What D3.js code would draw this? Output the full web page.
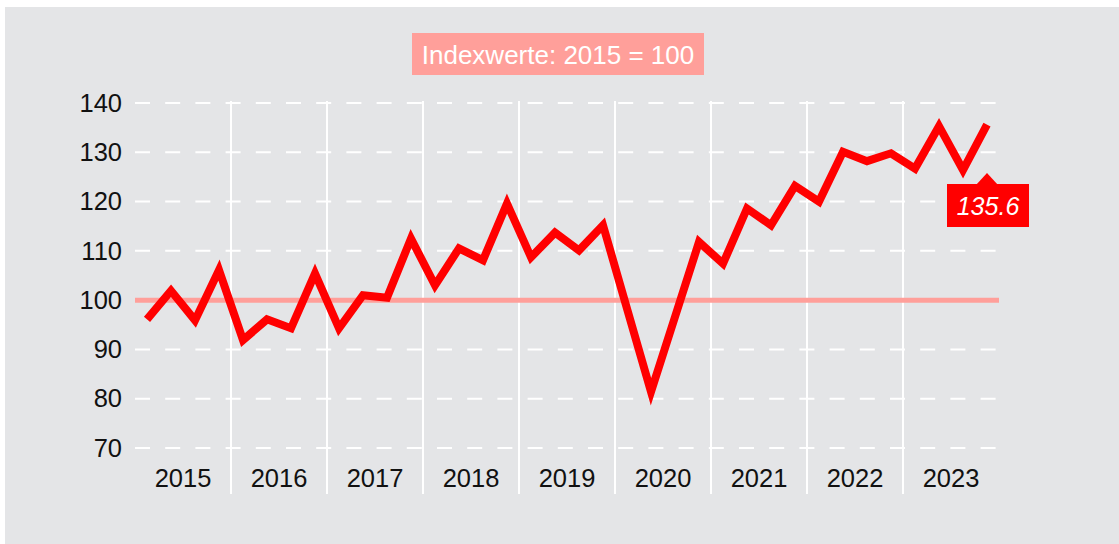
<!DOCTYPE html>
<html>
<head>
<meta charset="utf-8">
<script src="https://cdn.jsdelivr.net/npm/d3@7"></script>
<style>
  body { margin: 0; background: #fff; }
  text { font-family: "Liberation Sans", Arial, sans-serif; }
</style>
</head>
<body>
<div id="chart"></div>
<script>
// data (quarterly index, 2015 = 100)
var years = ["2015", "2016", "2017", "2018", "2019", "2020", "2021", "2022", "2023"];
var quarters = ["Q1", "Q2", "Q3", "Q4"];
var values = [
    96.1, 101.9, 95.9, 106.1,
    91.9, 96.1, 94.3, 105.4,
    94.3, 101.0, 100.5, 112.5,
    103.0, 110.5, 108.1, 119.6,
    108.7, 113.7, 110.1, 115.2,
    98.3, 81.4, 96.6, 111.8,
    107.4, 118.6, 115.2, 123.2,
    120.0, 130.1, 128.2, 129.8,
    126.7, 135.3, 126.4, 135.6
];
var yTicks = [70, 80, 90, 100, 110, 120, 130, 140];
var baseValue = 100;
var titleText = "Indexwerte: 2015 = 100";
var lastLabel = "135.6";

var W = 1119, H = 544;
var svg = d3.select("#chart").append("svg")
    .attr("width", W)
    .attr("height", H);

// grey panel
svg.append("rect")
    .attr("x", 5).attr("y", 7)
    .attr("width", W - 5).attr("height", H - 7)
    .attr("fill", "#e4e5e7");

// scales
var x = d3.scaleBand()
    .domain(years)
    .range([135, 999]);
var y = d3.scaleLinear()
    .domain([70, 140])
    .range([448, 103]);

function xPos(i) {
    var yr = years[Math.floor(i / 4)];
    return x(yr) + (i % 4 + 0.5) * x.bandwidth() / 4;
}

// dashed horizontal grid
svg.append("g")
    .selectAll("line")
    .data(yTicks)
    .enter()
    .append("line")
    .attr("x1", 135).attr("x2", 996)
    .attr("y1", function (d) { return y(d); })
    .attr("y2", function (d) { return y(d); })
    .attr("stroke", "#fff")
    .attr("stroke-width", 2)
    .attr("stroke-dasharray", "15,15.2");

// vertical year separators
svg.append("g")
    .selectAll("line")
    .data(years.slice(1))
    .enter()
    .append("line")
    .attr("x1", function (d) { return x(d); })
    .attr("x2", function (d) { return x(d); })
    .attr("y1", 101).attr("y2", 494)
    .attr("stroke", "#fff")
    .attr("stroke-width", 2);

// y axis labels
var yAxis = svg.append("g")
    .attr("transform", "translate(122,0)")
    .call(d3.axisLeft(y).tickValues(yTicks).tickSize(0).tickPadding(0));
yAxis.select(".domain").remove();
yAxis.selectAll("text")
    .attr("font-size", 25.5)
    .attr("fill", "#111")
    .style("font-family", "Liberation Sans, Arial, sans-serif");

// x axis labels (years)
var xAxis = svg.append("g")
    .attr("transform", "translate(0,469)")
    .call(d3.axisBottom(x).tickSize(0).tickPadding(0));
xAxis.select(".domain").remove();
xAxis.selectAll("text")
    .attr("font-size", 25.5)
    .attr("fill", "#111")
    .style("font-family", "Liberation Sans, Arial, sans-serif");

// base line at 100
svg.append("line")
    .attr("x1", 135).attr("x2", 999)
    .attr("y1", y(baseValue)).attr("y2", y(baseValue))
    .attr("stroke", "#ff9f9a")
    .attr("stroke-width", 5);

// the series
var line = d3.line()
    .x(function (d, i) { return xPos(i); })
    .y(function (d) { return y(d); });

svg.append("path")
    .datum(values)
    .attr("d", line)
    .attr("fill", "none")
    .attr("stroke", "#ff0000")
    .attr("stroke-width", 8)
    .attr("stroke-linejoin", "miter");

// title box
var title = svg.append("g");
title.append("rect")
    .attr("x", 412).attr("y", 33)
    .attr("width", 292).attr("height", 42)
    .attr("fill", "#ff9f9a");
title.append("text")
    .attr("x", 558).attr("y", 64)
    .attr("text-anchor", "middle")
    .attr("font-size", 26)
    .attr("fill", "#fff")
    .text(titleText);

// last value label
var lx = xPos(values.length - 1);
var lab = svg.append("g");
lab.append("rect")
    .attr("x", lx - 40).attr("y", 184)
    .attr("width", 82).attr("height", 43)
    .attr("fill", "#ff0000");
lab.append("path")
    .attr("d", "M" + (lx - 11) + ",185 L" + lx + ",173 L" + (lx + 11) + ",185 Z")
    .attr("fill", "#ff0000");
lab.append("text")
    .attr("x", lx + 1).attr("y", 215)
    .attr("text-anchor", "middle")
    .attr("font-size", 25)
    .attr("font-style", "italic")
    .attr("fill", "#fff")
    .text(lastLabel);
</script>
</body>
</html>
